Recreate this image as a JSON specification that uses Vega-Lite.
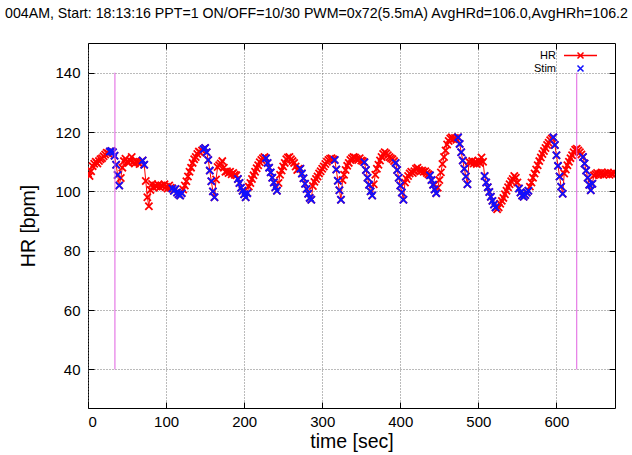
{
  "$schema": "https://vega.github.io/schema/vega-lite/v6.json",
  "width": 527,
  "height": 365,
  "autosize": "none",
  "padding": {"left": 88, "top": 43, "right": 17, "bottom": 47},
  "background": "white",
  "title": {"text": "004AM, Start: 18:13:16 PPT=1 ON/OFF=10/30 PWM=0x72(5.5mA) AvgHRd=106.0,AvgHRh=106.2", "anchor": "start", "frame": "group", "dx": -83, "offset": 21, "fontSize": 14.2, "font": "Liberation Sans", "fontWeight": "normal", "color": "black"},
  "config": {
    "view": {"stroke": "black", "strokeWidth": 1},
    "axis": {"labelFont": "Liberation Sans", "titleFont": "Liberation Sans", "labelFontSize": 15, "titleFontSize": 19.5, "titleFontWeight": "normal", "labelColor": "black", "titleColor": "black", "domain": false, "tickColor": "black", "gridColor": "#777777", "gridDash": [1, 2], "gridWidth": 1, "gridOpacity": 1}
  },
  "datasets": {
    "hr": [
{"t":0,"hr":106.0,"s":0},{"t":2,"hr":105.2,"s":0},{"t":4,"hr":106.8,"s":0},{"t":6,"hr":108.5,"s":0},{"t":8,"hr":109.3,"s":0},{"t":10,"hr":110.0,"s":0},{"t":12,"hr":109.4,"s":0},{"t":14,"hr":110.2,"s":0},{"t":16,"hr":110.8,"s":0},{"t":18,"hr":111.2,"s":0},{"t":20,"hr":111.8,"s":0},{"t":22,"hr":112.4,"s":0},{"t":24,"hr":113.0,"s":0},{"t":26,"hr":112.8,"s":0},{"t":28,"hr":113.4,"s":1},{"t":30,"hr":113.6,"s":1},{"t":32,"hr":113.2,"s":1},{"t":34,"hr":112.0,"s":1},{"t":36,"hr":109.0,"s":1},{"t":38,"hr":105.5,"s":1},{"t":40,"hr":102.0,"s":1},{"t":42,"hr":104.5,"s":0},{"t":44,"hr":108.0,"s":0},{"t":46,"hr":110.2,"s":0},{"t":48,"hr":111.0,"s":0},{"t":50,"hr":110.0,"s":0},{"t":52,"hr":109.6,"s":0},{"t":54,"hr":110.4,"s":0},{"t":56,"hr":111.6,"s":0},{"t":58,"hr":110.0,"s":0},{"t":60,"hr":109.4,"s":0},{"t":62,"hr":110.2,"s":0},{"t":64,"hr":109.8,"s":0},{"t":66,"hr":109.2,"s":0},{"t":68,"hr":110.0,"s":0},{"t":70,"hr":110.4,"s":1},{"t":72,"hr":109.0,"s":1},{"t":74,"hr":103.5,"s":0},{"t":76,"hr":98.0,"s":0},{"t":78,"hr":95.0,"s":0},{"t":80,"hr":100.5,"s":0},{"t":82,"hr":102.5,"s":0},{"t":84,"hr":101.2,"s":0},{"t":86,"hr":102.0,"s":0},{"t":88,"hr":101.6,"s":0},{"t":90,"hr":102.2,"s":0},{"t":92,"hr":101.4,"s":0},{"t":94,"hr":102.0,"s":0},{"t":96,"hr":101.8,"s":0},{"t":98,"hr":102.4,"s":0},{"t":100,"hr":101.6,"s":0},{"t":102,"hr":101.0,"s":0},{"t":104,"hr":102.0,"s":0},{"t":106,"hr":101.2,"s":0},{"t":108,"hr":101.0,"s":1},{"t":110,"hr":100.2,"s":1},{"t":112,"hr":100.8,"s":1},{"t":114,"hr":99.6,"s":1},{"t":116,"hr":99.0,"s":1},{"t":118,"hr":98.6,"s":1},{"t":120,"hr":99.4,"s":1},{"t":122,"hr":100.6,"s":0},{"t":124,"hr":102.0,"s":0},{"t":126,"hr":103.4,"s":0},{"t":128,"hr":105.0,"s":0},{"t":130,"hr":106.6,"s":0},{"t":132,"hr":108.0,"s":0},{"t":134,"hr":109.6,"s":0},{"t":136,"hr":110.8,"s":0},{"t":138,"hr":111.6,"s":0},{"t":140,"hr":112.6,"s":0},{"t":142,"hr":113.4,"s":0},{"t":144,"hr":113.0,"s":0},{"t":146,"hr":113.8,"s":0},{"t":148,"hr":114.2,"s":1},{"t":150,"hr":114.6,"s":1},{"t":152,"hr":113.2,"s":1},{"t":154,"hr":110.6,"s":1},{"t":156,"hr":107.0,"s":1},{"t":158,"hr":103.4,"s":1},{"t":160,"hr":100.0,"s":1},{"t":162,"hr":98.0,"s":1},{"t":164,"hr":104.0,"s":0},{"t":166,"hr":108.2,"s":0},{"t":168,"hr":108.8,"s":0},{"t":170,"hr":109.4,"s":0},{"t":172,"hr":110.2,"s":0},{"t":174,"hr":108.0,"s":0},{"t":176,"hr":106.6,"s":0},{"t":178,"hr":106.8,"s":0},{"t":180,"hr":106.2,"s":0},{"t":182,"hr":106.6,"s":0},{"t":184,"hr":105.8,"s":0},{"t":186,"hr":106.2,"s":0},{"t":188,"hr":105.6,"s":0},{"t":190,"hr":105.4,"s":0},{"t":192,"hr":104.2,"s":1},{"t":194,"hr":102.8,"s":1},{"t":196,"hr":101.2,"s":1},{"t":198,"hr":100.2,"s":1},{"t":200,"hr":99.0,"s":1},{"t":202,"hr":98.0,"s":1},{"t":204,"hr":99.4,"s":1},{"t":206,"hr":101.6,"s":0},{"t":208,"hr":102.8,"s":0},{"t":210,"hr":104.2,"s":0},{"t":212,"hr":105.4,"s":0},{"t":214,"hr":106.6,"s":0},{"t":216,"hr":107.8,"s":0},{"t":218,"hr":108.8,"s":0},{"t":220,"hr":109.8,"s":0},{"t":222,"hr":110.6,"s":0},{"t":224,"hr":111.2,"s":0},{"t":226,"hr":111.6,"s":0},{"t":228,"hr":111.2,"s":1},{"t":230,"hr":109.6,"s":1},{"t":232,"hr":108.0,"s":1},{"t":234,"hr":106.4,"s":1},{"t":236,"hr":104.6,"s":1},{"t":238,"hr":103.0,"s":1},{"t":240,"hr":101.4,"s":1},{"t":242,"hr":100.2,"s":1},{"t":244,"hr":102.8,"s":0},{"t":246,"hr":105.6,"s":0},{"t":248,"hr":107.0,"s":0},{"t":250,"hr":108.4,"s":0},{"t":252,"hr":109.6,"s":0},{"t":254,"hr":110.8,"s":0},{"t":256,"hr":111.4,"s":0},{"t":258,"hr":111.6,"s":0},{"t":260,"hr":110.8,"s":0},{"t":262,"hr":110.2,"s":0},{"t":264,"hr":109.6,"s":0},{"t":266,"hr":108.4,"s":0},{"t":268,"hr":107.2,"s":0},{"t":270,"hr":107.6,"s":0},{"t":272,"hr":107.6,"s":1},{"t":274,"hr":106.0,"s":1},{"t":276,"hr":104.4,"s":1},{"t":278,"hr":102.6,"s":1},{"t":280,"hr":100.8,"s":1},{"t":282,"hr":99.2,"s":1},{"t":284,"hr":97.8,"s":1},{"t":286,"hr":97.2,"s":1},{"t":288,"hr":101.8,"s":0},{"t":290,"hr":103.2,"s":0},{"t":292,"hr":104.2,"s":0},{"t":294,"hr":105.0,"s":0},{"t":296,"hr":106.0,"s":0},{"t":298,"hr":106.8,"s":0},{"t":300,"hr":107.6,"s":0},{"t":302,"hr":108.4,"s":0},{"t":304,"hr":109.2,"s":0},{"t":306,"hr":110.0,"s":0},{"t":308,"hr":110.6,"s":0},{"t":310,"hr":111.0,"s":0},{"t":312,"hr":111.2,"s":0},{"t":314,"hr":110.8,"s":0},{"t":316,"hr":110.6,"s":1},{"t":318,"hr":107.4,"s":1},{"t":320,"hr":103.6,"s":1},{"t":322,"hr":100.4,"s":1},{"t":324,"hr":97.2,"s":1},{"t":326,"hr":103.8,"s":0},{"t":328,"hr":105.6,"s":0},{"t":330,"hr":107.2,"s":0},{"t":332,"hr":108.6,"s":0},{"t":334,"hr":109.6,"s":0},{"t":336,"hr":110.6,"s":0},{"t":338,"hr":111.2,"s":0},{"t":340,"hr":111.6,"s":0},{"t":342,"hr":111.4,"s":0},{"t":344,"hr":111.0,"s":0},{"t":346,"hr":110.6,"s":0},{"t":348,"hr":111.2,"s":0},{"t":350,"hr":110.4,"s":0},{"t":352,"hr":110.2,"s":0},{"t":354,"hr":109.8,"s":1},{"t":356,"hr":107.2,"s":1},{"t":358,"hr":104.6,"s":1},{"t":360,"hr":102.2,"s":1},{"t":362,"hr":100.0,"s":1},{"t":364,"hr":98.6,"s":1},{"t":366,"hr":102.4,"s":0},{"t":368,"hr":105.6,"s":0},{"t":370,"hr":107.6,"s":0},{"t":372,"hr":109.0,"s":0},{"t":374,"hr":110.4,"s":0},{"t":376,"hr":111.6,"s":0},{"t":378,"hr":112.6,"s":0},{"t":380,"hr":113.2,"s":0},{"t":382,"hr":112.8,"s":0},{"t":384,"hr":112.2,"s":0},{"t":386,"hr":111.6,"s":0},{"t":388,"hr":111.2,"s":0},{"t":390,"hr":110.8,"s":0},{"t":392,"hr":110.2,"s":0},{"t":394,"hr":109.6,"s":1},{"t":396,"hr":107.2,"s":1},{"t":398,"hr":104.6,"s":1},{"t":400,"hr":102.0,"s":1},{"t":402,"hr":99.6,"s":1},{"t":404,"hr":97.2,"s":1},{"t":406,"hr":103.0,"s":0},{"t":408,"hr":104.2,"s":0},{"t":410,"hr":105.2,"s":0},{"t":412,"hr":106.0,"s":0},{"t":414,"hr":106.6,"s":0},{"t":416,"hr":106.2,"s":0},{"t":418,"hr":106.8,"s":0},{"t":420,"hr":107.6,"s":0},{"t":422,"hr":108.0,"s":0},{"t":424,"hr":107.2,"s":0},{"t":426,"hr":106.8,"s":0},{"t":428,"hr":107.0,"s":0},{"t":430,"hr":106.6,"s":0},{"t":432,"hr":106.8,"s":0},{"t":434,"hr":106.2,"s":0},{"t":436,"hr":105.8,"s":0},{"t":438,"hr":105.4,"s":1},{"t":440,"hr":103.8,"s":1},{"t":442,"hr":102.2,"s":1},{"t":444,"hr":100.6,"s":1},{"t":446,"hr":99.4,"s":1},{"t":448,"hr":101.2,"s":0},{"t":450,"hr":103.8,"s":0},{"t":452,"hr":106.4,"s":0},{"t":454,"hr":109.2,"s":0},{"t":456,"hr":111.6,"s":0},{"t":458,"hr":113.8,"s":0},{"t":460,"hr":115.8,"s":0},{"t":462,"hr":117.0,"s":0},{"t":464,"hr":117.8,"s":0},{"t":466,"hr":118.2,"s":0},{"t":468,"hr":117.6,"s":0},{"t":470,"hr":118.0,"s":0},{"t":472,"hr":117.4,"s":0},{"t":474,"hr":118.2,"s":1},{"t":476,"hr":116.0,"s":1},{"t":478,"hr":113.2,"s":1},{"t":480,"hr":110.4,"s":1},{"t":482,"hr":107.6,"s":1},{"t":484,"hr":105.0,"s":1},{"t":486,"hr":102.4,"s":1},{"t":488,"hr":110.0,"s":0},{"t":490,"hr":109.6,"s":0},{"t":492,"hr":110.2,"s":0},{"t":494,"hr":109.4,"s":0},{"t":496,"hr":110.0,"s":0},{"t":498,"hr":109.2,"s":0},{"t":500,"hr":110.4,"s":0},{"t":502,"hr":109.6,"s":0},{"t":504,"hr":111.4,"s":0},{"t":506,"hr":110.0,"s":0},{"t":508,"hr":105.2,"s":1},{"t":510,"hr":103.0,"s":1},{"t":512,"hr":101.4,"s":1},{"t":514,"hr":99.8,"s":1},{"t":516,"hr":98.2,"s":1},{"t":518,"hr":96.8,"s":1},{"t":520,"hr":95.6,"s":1},{"t":522,"hr":94.6,"s":1},{"t":524,"hr":94.0,"s":0},{"t":526,"hr":94.6,"s":0},{"t":528,"hr":95.8,"s":0},{"t":530,"hr":96.8,"s":0},{"t":532,"hr":97.8,"s":0},{"t":534,"hr":99.0,"s":0},{"t":536,"hr":100.2,"s":0},{"t":538,"hr":101.4,"s":0},{"t":540,"hr":102.4,"s":0},{"t":542,"hr":103.4,"s":0},{"t":544,"hr":104.2,"s":0},{"t":546,"hr":105.2,"s":0},{"t":548,"hr":104.6,"s":0},{"t":550,"hr":103.0,"s":0},{"t":552,"hr":101.0,"s":1},{"t":554,"hr":99.6,"s":1},{"t":556,"hr":98.6,"s":1},{"t":558,"hr":98.2,"s":1},{"t":560,"hr":98.8,"s":1},{"t":562,"hr":99.6,"s":1},{"t":564,"hr":100.2,"s":1},{"t":566,"hr":101.6,"s":0},{"t":568,"hr":103.0,"s":0},{"t":570,"hr":104.6,"s":0},{"t":572,"hr":106.0,"s":0},{"t":574,"hr":107.4,"s":0},{"t":576,"hr":108.8,"s":0},{"t":578,"hr":110.2,"s":0},{"t":580,"hr":111.4,"s":0},{"t":582,"hr":112.6,"s":0},{"t":584,"hr":113.6,"s":0},{"t":586,"hr":114.6,"s":0},{"t":588,"hr":115.6,"s":0},{"t":590,"hr":116.4,"s":0},{"t":592,"hr":117.2,"s":0},{"t":594,"hr":117.8,"s":0},{"t":596,"hr":118.2,"s":1},{"t":598,"hr":115.6,"s":1},{"t":600,"hr":112.2,"s":1},{"t":602,"hr":108.6,"s":1},{"t":604,"hr":105.0,"s":1},{"t":606,"hr":101.6,"s":1},{"t":608,"hr":99.2,"s":1},{"t":610,"hr":106.0,"s":0},{"t":612,"hr":107.4,"s":0},{"t":614,"hr":108.8,"s":0},{"t":616,"hr":110.0,"s":0},{"t":618,"hr":111.2,"s":0},{"t":620,"hr":112.2,"s":0},{"t":622,"hr":113.2,"s":0},{"t":624,"hr":114.0,"s":0},{"t":626,"hr":114.4,"s":0},{"t":628,"hr":113.8,"s":0},{"t":630,"hr":113.2,"s":0},{"t":632,"hr":112.4,"s":0},{"t":634,"hr":111.6,"s":1},{"t":636,"hr":109.4,"s":1},{"t":638,"hr":107.0,"s":1},{"t":640,"hr":104.6,"s":1},{"t":642,"hr":102.2,"s":1},{"t":644,"hr":100.4,"s":1},{"t":646,"hr":102.6,"s":1},{"t":648,"hr":105.4,"s":0},{"t":650,"hr":105.8,"s":0},{"t":652,"hr":106.2,"s":0},{"t":654,"hr":105.6,"s":0},{"t":656,"hr":106.0,"s":0},{"t":658,"hr":106.4,"s":0},{"t":660,"hr":105.6,"s":0},{"t":662,"hr":106.2,"s":0},{"t":664,"hr":105.8,"s":0},{"t":666,"hr":106.4,"s":0},{"t":668,"hr":105.6,"s":0},{"t":670,"hr":106.0,"s":0},{"t":672,"hr":105.8,"s":0},{"t":674,"hr":106.2,"s":0}
    ],
    "marks": [{"t": 34.5}, {"t": 626}]
  },
  "layer": [
    {
      "data": {"name": "hr"},
      "mark": {"type": "line", "strokeWidth": 1, "clip": true},
      "encoding": {
        "x": {"field": "t", "type": "quantitative", "scale": {"domain": [0, 675], "nice": false, "zero": false},
              "axis": {"orient": "bottom", "title": "time [sec]", "values": [0, 100, 200, 300, 400, 500, 600], "grid": true, "tickSize": -6, "labelPadding": 12, "titlePadding": 3}},
        "y": {"field": "hr", "type": "quantitative", "scale": {"domain": [27, 150], "nice": false, "zero": false},
              "axis": {"orient": "left", "title": "HR [bpm]", "values": [40, 60, 80, 100, 120, 140], "grid": true, "tickSize": -6, "labelPadding": 14, "titlePadding": 16}},
        "color": {"datum": "HR", "scale": {"domain": ["HR", "Stim"], "range": ["#ff0000", "#1010ff"]},
          "legend": {"title": null, "orient": "none", "legendX": 487, "legendY": 7, "symbolType": {"expr": "datum.value == 'HR' ? 'M-1,-1L1,1M-1,1L1,-1M-5.5,0L5.5,0' : 'M-1,-1L1,1M-1,1L1,-1'"}, "symbolSize": 36, "symbolStrokeWidth": 1.5, "symbolFillColor": "transparent", "labelFont": "Liberation Sans", "labelFontSize": 11, "labelColor": "black", "labelAlign": "right", "labelOffset": -30, "rowPadding": 0, "padding": 0}}
      }
    },
    {
      "data": {"name": "hr"},
      "mark": {"type": "point", "shape": "M-1,-1L1,1M-1,1L1,-1", "filled": false, "size": 52, "strokeWidth": 1.8, "opacity": 1, "clip": true},
      "encoding": {
        "x": {"field": "t", "type": "quantitative", "axis": null},
        "y": {"field": "hr", "type": "quantitative", "axis": null},
        "color": {"datum": "HR"}
      }
    },
    {
      "data": {"name": "hr"},
      "transform": [{"filter": "datum.s == 1"}],
      "mark": {"type": "point", "shape": "M-1,-1L1,1M-1,1L1,-1", "filled": false, "size": 52, "strokeWidth": 1.8, "opacity": 1, "clip": true},
      "encoding": {
        "x": {"field": "t", "type": "quantitative", "axis": null},
        "y": {"field": "hr", "type": "quantitative", "axis": null},
        "color": {"datum": "Stim"}
      }
    },
    {
      "data": {"name": "marks"},
      "mark": {"type": "rule", "color": "#e060e0", "strokeWidth": 1},
      "encoding": {
        "x": {"field": "t", "type": "quantitative", "axis": {"orient": "top", "title": null, "labels": false, "grid": false, "tickSize": -6, "values": [0, 100, 200, 300, 400, 500, 600]}},
        "y": {"datum": 40, "type": "quantitative", "axis": {"orient": "right", "title": null, "labels": false, "grid": false, "tickSize": -6, "values": [40, 60, 80, 100, 120, 140]}},
        "y2": {"datum": 140}
      }
    }
  ],
  "resolve": {"axis": {"x": "independent", "y": "independent"}}
}
